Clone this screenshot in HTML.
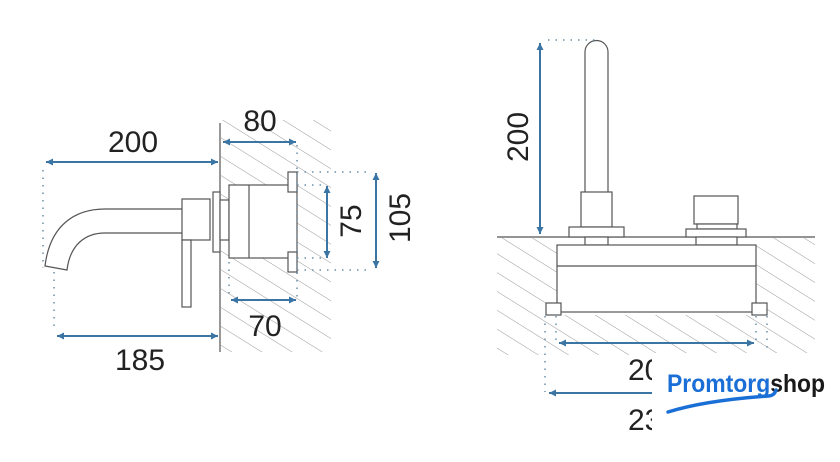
<!DOCTYPE html>
<html><head><meta charset="utf-8"><style>html,body{margin:0;padding:0;background:#fff}svg{display:block}</style></head>
<body>
<svg width="840" height="462" viewBox="0 0 840 462" xmlns="http://www.w3.org/2000/svg" font-family="Liberation Sans, sans-serif">
<defs>
<pattern id="h" patternUnits="userSpaceOnUse" width="16" height="16" patternTransform="rotate(-58)">
<line x1="0" y1="0" x2="0" y2="16" stroke="#999" stroke-width="1"/>
</pattern>
<marker id="a" viewBox="0 0 10 10" refX="10" refY="5" markerWidth="9" markerHeight="7" orient="auto-start-reverse" markerUnits="userSpaceOnUse"><path d="M0,0 L10,5 L0,10 Z" fill="#3b75a3"/></marker>
</defs>
<rect width="840" height="462" fill="#fff"/>
<rect x="221" y="120" width="110" height="232" fill="url(#h)"/>
<rect x="229" y="185" width="68" height="73" fill="#fff"/>
<rect x="288" y="172" width="9" height="100" fill="#fff"/>
<g stroke="#555" fill="#fff" stroke-width="1.2">
<line x1="220" y1="123" x2="220" y2="352"/>
<path d="M182,209 L105,209 C75,209 50,225 45,266 L67,270 C70,245 85,233 105,233 L182,233" />
<rect x="182" y="199" width="28" height="41"/>
<rect x="182" y="240" width="9" height="67"/>
<rect x="213" y="192" width="7" height="60"/>
<rect x="220" y="200" width="9" height="40"/>
<rect x="229" y="185" width="68" height="73"/>
<line x1="249" y1="185" x2="249" y2="258"/>
<rect x="288" y="172" width="9" height="20"/>
<rect x="288" y="252" width="9" height="20"/>
</g>
<g stroke="#6a8fa8" stroke-width="1.5" stroke-dasharray="1.5 6" fill="none">
<line x1="43" y1="170" x2="43" y2="268"/>
<line x1="54" y1="272" x2="54" y2="332"/>
<line x1="297" y1="145" x2="297" y2="298"/>
<line x1="229" y1="262" x2="229" y2="298"/>
<line x1="297" y1="172" x2="372" y2="172"/>
<line x1="297" y1="270" x2="372" y2="270"/>
<line x1="297" y1="185" x2="325" y2="185"/>
<line x1="297" y1="258" x2="325" y2="258"/>
</g>
<g stroke="#3b75a3" stroke-width="2" marker-start="url(#a)" marker-end="url(#a)">
<line x1="46" y1="162" x2="218" y2="162"/>
<line x1="223" y1="142" x2="296" y2="142"/>
<line x1="57" y1="336" x2="218" y2="336"/>
<line x1="231" y1="300" x2="296" y2="300"/>
<line x1="327" y1="186" x2="327" y2="258"/>
<line x1="376" y1="173" x2="376" y2="268"/>
</g>
<g fill="#222" font-size="30" text-anchor="middle">
<text x="133" y="152">200</text>
<text x="260" y="131">80</text>
<text x="140" y="370">185</text>
<text x="265" y="336">70</text>
<text transform="translate(361,221) rotate(-90)">75</text>
<text transform="translate(410,218) rotate(-90)">105</text>
</g>
<rect x="497" y="238" width="318" height="117" fill="url(#h)"/>
<rect x="557" y="238" width="199" height="74" fill="#fff"/>
<rect x="546" y="303" width="221" height="12" fill="#fff"/>
<g stroke="#555" fill="#fff" stroke-width="1.2">
<line x1="497" y1="237" x2="815" y2="237"/>
<path d="M585,192 L585,52 A11.5,11.5 0 0 1 608,52 L608,192"/>
<rect x="581" y="192" width="31" height="35"/>
<rect x="569" y="227" width="55" height="10"/>
<rect x="694" y="196" width="44" height="28"/>
<rect x="697" y="224" width="40" height="5"/>
<rect x="686" y="229" width="60" height="8"/>
<rect x="585" y="237" width="23" height="8"/>
<rect x="696" y="237" width="41" height="8"/>
<rect x="557" y="245" width="199" height="67"/>
<line x1="557" y1="266" x2="756" y2="266"/>
<rect x="546" y="303" width="15" height="12"/>
<rect x="752" y="303" width="15" height="12"/>
</g>
<g stroke="#6a8fa8" stroke-width="1.5" stroke-dasharray="1.5 6" fill="none">
<line x1="548" y1="40" x2="595" y2="40"/>
<line x1="556" y1="316" x2="556" y2="345"/>
<line x1="756" y1="316" x2="756" y2="345"/>
<line x1="545" y1="316" x2="545" y2="392"/>
<line x1="767" y1="316" x2="767" y2="360"/>
</g>
<g stroke="#3b75a3" stroke-width="2">
<line x1="540" y1="43" x2="540" y2="234" marker-start="url(#a)" marker-end="url(#a)"/>
<line x1="559" y1="343" x2="754" y2="343" marker-start="url(#a)" marker-end="url(#a)"/>
<line x1="549" y1="393" x2="660" y2="393" marker-start="url(#a)"/>
</g>
<g fill="#222" font-size="30">
<text transform="translate(528,137) rotate(-90)" text-anchor="middle">200</text>
<text x="628" y="380">20</text>
<text x="628" y="430">23</text>
</g>
<rect x="652" y="353" width="188" height="90" fill="#fff"/>
<text x="667" y="392" font-size="25" font-weight="bold" textLength="158" lengthAdjust="spacingAndGlyphs"><tspan fill="#1a6fd6">Promtorg</tspan><tspan fill="#1a1a1a">shop</tspan></text>
<path d="M668,412 C700,402 740,398 768,396 C772,396 775,394 776,390" stroke="#1a6fd6" stroke-width="3.5" fill="none" stroke-linecap="round"/>
</svg>
</body></html>
